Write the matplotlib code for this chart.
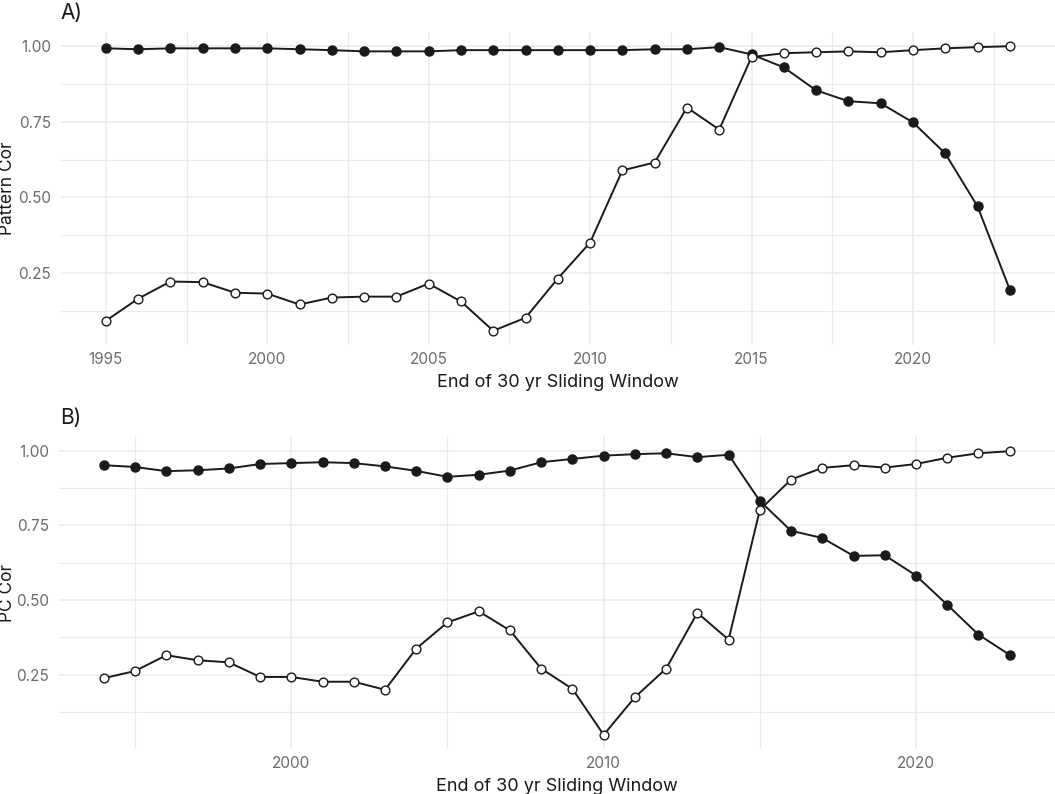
import matplotlib
matplotlib.use("Agg")
import matplotlib.pyplot as plt
import numpy as np
from matplotlib.ticker import MultipleLocator, FixedLocator

plt.rcParams['font.family'] = ['Inter', 'DejaVu Sans']

# ---- data ----
years_a = list(range(1995, 2024))
pattern_filled = [0.993, 0.990, 0.993, 0.993, 0.993, 0.993, 0.990, 0.987, 0.983, 0.983,
                  0.983, 0.987, 0.987, 0.987, 0.987, 0.987, 0.987, 0.990, 0.990, 0.997,
                  0.973, 0.930, 0.854, 0.818, 0.811, 0.748, 0.645, 0.470, 0.194]
pattern_open = [0.091, 0.164, 0.221, 0.219, 0.184, 0.181, 0.145, 0.168, 0.171, 0.171,
                0.214, 0.155, 0.058, 0.101, 0.231, 0.350, 0.589, 0.615, 0.797, 0.724,
                0.964, 0.977, 0.980, 0.983, 0.980, 0.987, 0.993, 0.997, 1.000]

years_b = list(range(1994, 2024))
pc_filled = [0.952, 0.946, 0.932, 0.935, 0.941, 0.956, 0.959, 0.962, 0.959, 0.948,
             0.933, 0.913, 0.920, 0.934, 0.962, 0.973, 0.984, 0.989, 0.992, 0.979,
             0.987, 0.832, 0.732, 0.708, 0.648, 0.650, 0.582, 0.484, 0.384, 0.316]
pc_open = [0.238, 0.262, 0.315, 0.298, 0.291, 0.242, 0.242, 0.226, 0.226, 0.199,
           0.337, 0.425, 0.462, 0.398, 0.270, 0.202, 0.048, 0.174, 0.270, 0.457,
           0.367, 0.802, 0.904, 0.943, 0.952, 0.944, 0.956, 0.977, 0.992, 0.999]

x_label = "End of 30 yr Sliding Window"
y_labels = ["Pattern Cor", "PC Cor"]
panel_tags = ["A)", "B)"]
y_ticks = [0.25, 0.50, 0.75, 1.00]
y_ticklabels = ["0.25", "0.50", "0.75", "1.00"]

W, H = 1055, 794
fig = plt.figure(figsize=(W / 100, H / 100), dpi=100)

line_col = "#1a1a1a"
grid_col = "#ebebeb"
tick_col = "#6b6b6b"

def expand(vals, frac=0.05):
    lo, hi = min(vals), max(vals)
    d = (hi - lo) * frac
    return lo - d, hi + d

def setup(ax, years, filled, opn, ylabel, xmajor, xminor, ylab_px, left_px):
    ax.set_xlim(*expand(years))
    ax.set_ylim(*expand(filled + opn))
    for s in ax.spines.values():
        s.set_visible(False)
    ax.set_facecolor("white")
    ax.xaxis.set_major_locator(MultipleLocator(xmajor))
    ax.xaxis.set_minor_locator(MultipleLocator(xminor))
    ax.yaxis.set_major_locator(FixedLocator(y_ticks))
    ax.yaxis.set_minor_locator(FixedLocator([0.125, 0.375, 0.625, 0.875]))
    ax.set_yticklabels(y_ticklabels)
    ax.grid(which="major", color=grid_col, lw=1.1, zorder=0)
    ax.grid(which="minor", color=grid_col, lw=0.8, zorder=0)
    ax.tick_params(which="both", length=0)
    ax.tick_params(axis="y", pad=7, labelsize=11, labelcolor=tick_col)
    ax.tick_params(axis="x", pad=5, labelsize=11, labelcolor=tick_col)
    ax.set_axisbelow(True)
    ax.plot(years, filled, color=line_col, lw=1.4, marker="o", ms=6.5,
            mfc=line_col, mec=line_col, zorder=3)
    ax.plot(years, opn, color=line_col, lw=1.4, marker="o", ms=6.3,
            mfc="white", mec=line_col, mew=1.0, zorder=4)
    ax.set_xlabel(x_label, fontsize=13, color="#1a1a1a", labelpad=5)
    ax.set_ylabel(ylabel, fontsize=12.5, color="#1a1a1a")
    width_px = W - left_px
    ax.yaxis.set_label_coords((ylab_px - left_px) / width_px, 0.5)

axA = fig.add_axes([60.6 / W, 1 - 345 / H, 1 - 60.6 / W, (345 - 32) / H])
setup(axA, years_a, pattern_filled, pattern_open, y_labels[0], 5, 2.5, 16, 60.6)

axB = fig.add_axes([58.6 / W, 1 - 749 / H, 1 - 58.6 / W, (749 - 437) / H])
setup(axB, years_b, pc_filled, pc_open, y_labels[1], 10, 5, 16, 58.6)

fig.text(60 / W, 1 - 13 / H, panel_tags[0], fontsize=15, color="#1a1a1a", va="center", ha="left")
fig.text(60 / W, 1 - 418 / H, panel_tags[1], fontsize=15, color="#1a1a1a", va="center", ha="left")

fig.savefig("out.png", dpi=100, facecolor="white")
